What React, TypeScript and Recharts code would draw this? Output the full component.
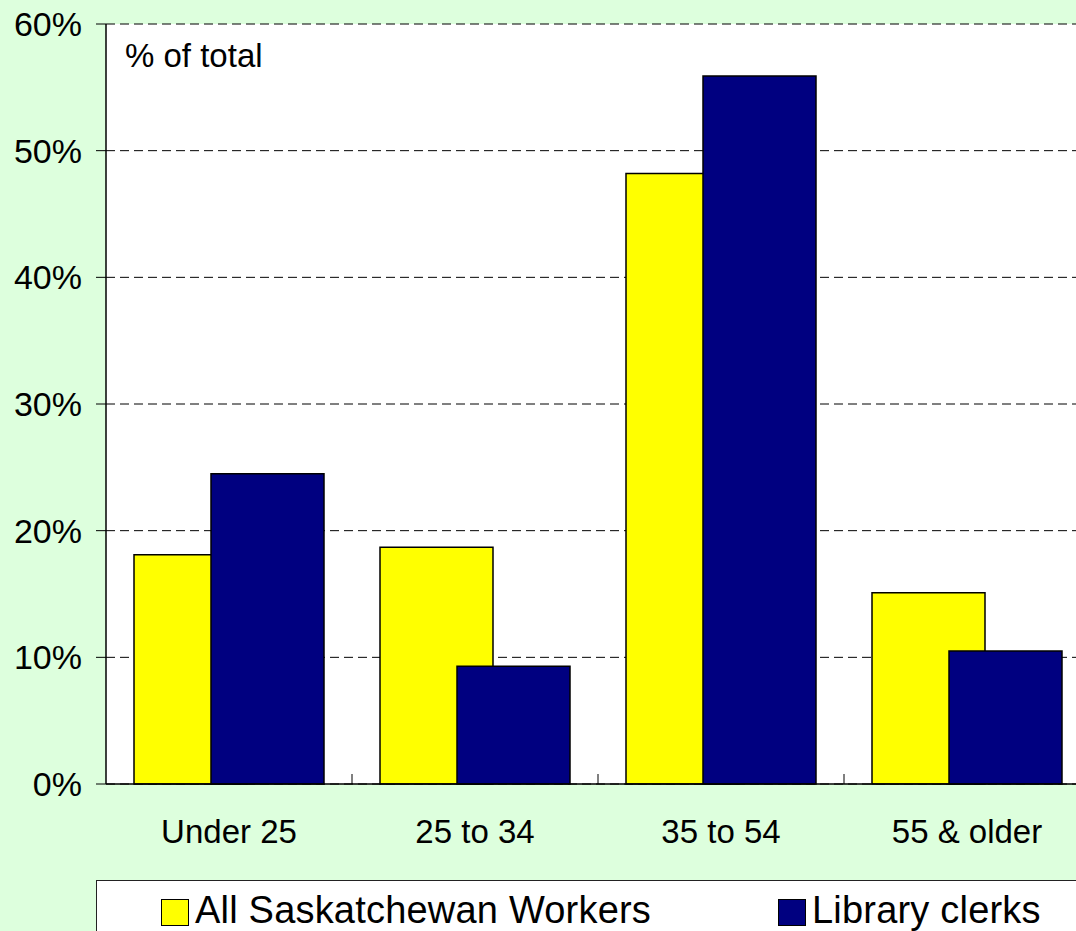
import React from 'react';
import { BarChart, Bar, XAxis, YAxis, CartesianGrid } from 'recharts';

const categories = ['Under 25', '25 to 34', '35 to 54', '55 & older'];
const allWorkers = [18.1, 18.7, 48.2, 15.1];
const libraryClerks = [24.5, 9.3, 55.9, 10.5];
const seriesNames = ['All Saskatchewan Workers', 'Library clerks'];
const seriesColors = ['#FFFF00', '#000080'];
const yTicks = [0, 10, 20, 30, 40, 50, 60];

const data = categories.map((c, i) => ({
  name: c,
  all: allWorkers[i],
  clerks: libraryClerks[i],
}));

const FONT = '"Liberation Sans", Arial, sans-serif';
const W = 1100;
const H = 931;
const PLOT_LEFT = 106;
const PLOT_RIGHT = 1090;
const BAND = (PLOT_RIGHT - PLOT_LEFT) / categories.length;

const XTick = (props: any) => {
  const { x, y, payload, index } = props;
  return (
    <g>
      <text
        x={x}
        y={y + 59}
        textAnchor="middle"
        fontSize={33}
        fontFamily={FONT}
        fill="#000"
      >
        {payload.value}
      </text>
      {index < categories.length - 1 && (
        <line x1={x + BAND / 2} x2={x + BAND / 2} y1={y} y2={y - 10} stroke="#000" strokeWidth={1} />
      )}
    </g>
  );
};

export default function App() {
  return (
    <div
      style={{
        position: 'absolute',
        left: 0,
        top: 0,
        width: 1076,
        height: 931,
        overflow: 'hidden',
        background: '#DDFFDD',
        fontFamily: FONT,
      }}
    >
      <BarChart
        width={W}
        height={H}
        data={data}
        margin={{ top: 24, right: W - PLOT_RIGHT, bottom: H - 784 - 60, left: 0 }}
        barSize={113}
        barGap={-36}
      >
        <CartesianGrid
          vertical={false}
          fill="#FFFFFF"
          stroke="#000"
          strokeDasharray="9 5"
        />
        <XAxis
          dataKey="name"
          height={60}
          tickLine={false}
          tickSize={0}
          tickMargin={0}
          axisLine={{ stroke: '#000', strokeWidth: 1.5 }}
          tick={<XTick />}
          interval={0}
        />
        <YAxis
          width={PLOT_LEFT}
          domain={[0, 60]}
          ticks={yTicks}
          interval={0}
          tickFormatter={(v: number) => `${v}%`}
          tickSize={10}
          tickMargin={14}
          axisLine={{ stroke: '#000', strokeWidth: 1.5 }}
          tickLine={{ stroke: '#000', strokeWidth: 1 }}
          tick={{ fontSize: 34, fontFamily: FONT, fill: '#000' }}
        />
        <Bar
          dataKey="all"
          name={seriesNames[0]}
          fill={seriesColors[0]}
          stroke="#000"
          strokeWidth={1.5}
          isAnimationActive={false}
        />
        <Bar
          dataKey="clerks"
          name={seriesNames[1]}
          fill={seriesColors[1]}
          stroke="#000"
          strokeWidth={1.5}
          isAnimationActive={false}
        />
      </BarChart>
      <div
        style={{
          position: 'absolute',
          left: 125,
          top: 36,
          fontSize: 33,
          lineHeight: '40px',
          color: '#000',
        }}
      >
        % of total
      </div>
      <div
        style={{
          position: 'absolute',
          left: 96,
          top: 880,
          width: 1100,
          height: 100,
          background: '#FFFFFF',
          border: '1.5px solid #222',
          boxSizing: 'border-box',
        }}
      >
        {seriesNames.map((n, i) => (
          <div
            key={n}
            style={{
              position: 'absolute',
              left: i === 0 ? 64 : 681,
              top: 8,
              display: 'flex',
              alignItems: 'center',
              fontSize: 38,
              letterSpacing: 0.2,
              lineHeight: '42px',
              color: '#000',
              whiteSpace: 'nowrap',
            }}
          >
            <span
              style={{
                display: 'inline-block',
                width: 26,
                height: 25,
                background: seriesColors[i],
                border: '1.5px solid #000',
                marginRight: 6,
                marginTop: 4,
              }}
            />
            {n}
          </div>
        ))}
      </div>
    </div>
  );
}
